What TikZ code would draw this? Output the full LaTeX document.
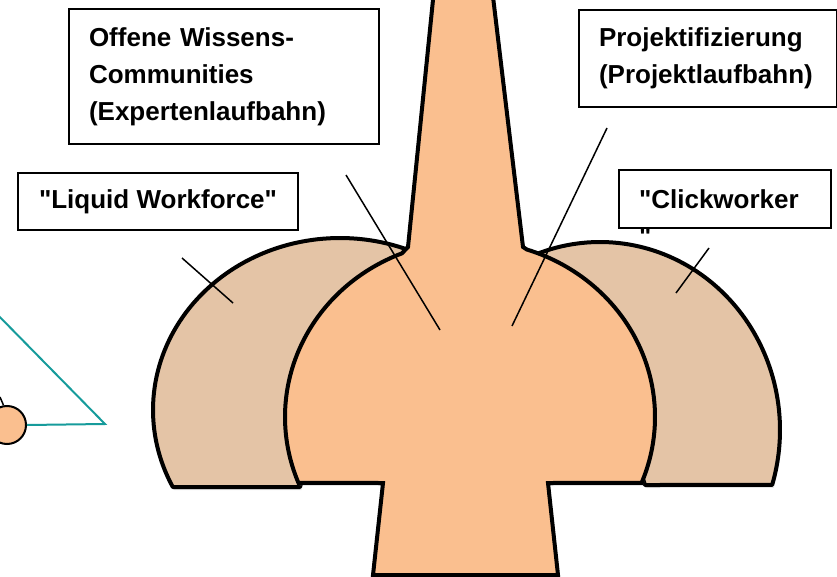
\documentclass[tikz,border=0pt]{standalone}
\usepackage{fontspec}
\newfontfamily\lblfont{Liberation Sans}
\usetikzlibrary{%
	positioning,%
	shadows,%
}
\definecolor{cpeach}{RGB}{250, 191, 143}
\definecolor{ctan}{RGB}{228, 196, 166}
\definecolor{cteal}{RGB}{22, 155, 155}
\tikzset{
	labelbox/.style={%
			draw,%
			rectangle,%
			line width=2pt,%
			fill=white,%
			inner xsep=20pt,%
			inner ysep=0pt,%
			font={\lblfont\fontsize{26}{37}\selectfont\bfseries}},%
	lobe/.style={%
			fill=ctan,%
			draw,%
			line width=4pt,%
			line join=round,%
			drop shadow={shadow xshift=1.5pt, shadow yshift=-3pt, opacity=.2}},%
	body/.style={%
			fill=cpeach,%
			draw,%
			line width=4pt,%
			drop shadow={shadow xshift=1.5pt, shadow yshift=-3pt, opacity=.2}},%
	leader/.style={%
			line width=1.5pt},%
	tealline/.style={%
			draw=cteal,%
			line width=2pt},%
}

\begin{document}
\begin{tikzpicture}[x=1pt, y=-1pt]
	\useasboundingbox (0,0) rectangle (837,577);
	\clip (0,0) rectangle (837,577);

	\draw[lobe] (300,487) -- plot[domain=206.6:64.7, samples=80] ({340+187*cos(\x)}, {410-172*sin(\x)}) -- (400,320) -- (305,470) -- cycle;
	\draw[lobe] (645,485) -- plot[domain=-17:113.9, samples=80] ({600+180*cos(\x)}, {430-188*sin(\x)}) -- (540,300) -- (640,470) -- cycle;

	\draw[body] (435,-20) -- (408,247) -- plot[domain=111.6:202, samples=80] ({470+185*cos(\x)}, {417-176*sin(\x)}) -- (383,483) -- (373,575) -- (558,575) -- (548,483) -- plot[domain=-22:72.1, samples=80] ({470+185*cos(\x)}, {417-176*sin(\x)}) -- (523,247) -- (491,-20) -- cycle;

	\node[labelbox, anchor=north west, text width=270pt, minimum height=135pt, align=left] (owc) at (68,8) {Offene Wissens-\\Communities\\(Expertenlaufbahn)};
	\node[labelbox, anchor=north west, minimum width=280pt, minimum height=57pt] (lwf) at (17,172) {"Liquid Workforce"};
	\node[labelbox, anchor=north west, text width=218pt, minimum height=97pt, align=left] (prj) at (578,9) {Projektifizierung\\(Projektlaufbahn)};
	\node[labelbox, anchor=north west, text width=172pt, minimum height=58pt, align=left] (clk) at (618,169) {\rlap{\smash{\raisebox{-37pt}{"}}}"Clickworker};

	\coordinate (lwfa) at (182,258);
	\coordinate (lwfb) at (233,303);
	\coordinate (owca) at (346,175);
	\coordinate (owcb) at (440,330);
	\coordinate (prja) at (607,128);
	\coordinate (prjb) at (512,326);
	\coordinate (clka) at (709,248);
	\coordinate (clkb) at (676,293);
	\draw[leader] (lwfa) -- (lwfb);
	\draw[leader] (owca) -- (owcb);
	\draw[leader] (prja) -- (prjb);
	\draw[leader] (clka) -- (clkb);

	\node[circle, draw, line width=2pt, fill=cpeach, minimum size=38pt, inner sep=0pt] (dot) at (7,425) {};
	\coordinate (tip) at (105,424);
	\coordinate (tealtop) at (-10,307);
	\coordinate (dottick) at (0,397);
	\draw[tealline] (tealtop) -- (tip) -- (dot.east);
	\draw[leader] (dot.100) -- (dottick);
\end{tikzpicture}
\end{document}
